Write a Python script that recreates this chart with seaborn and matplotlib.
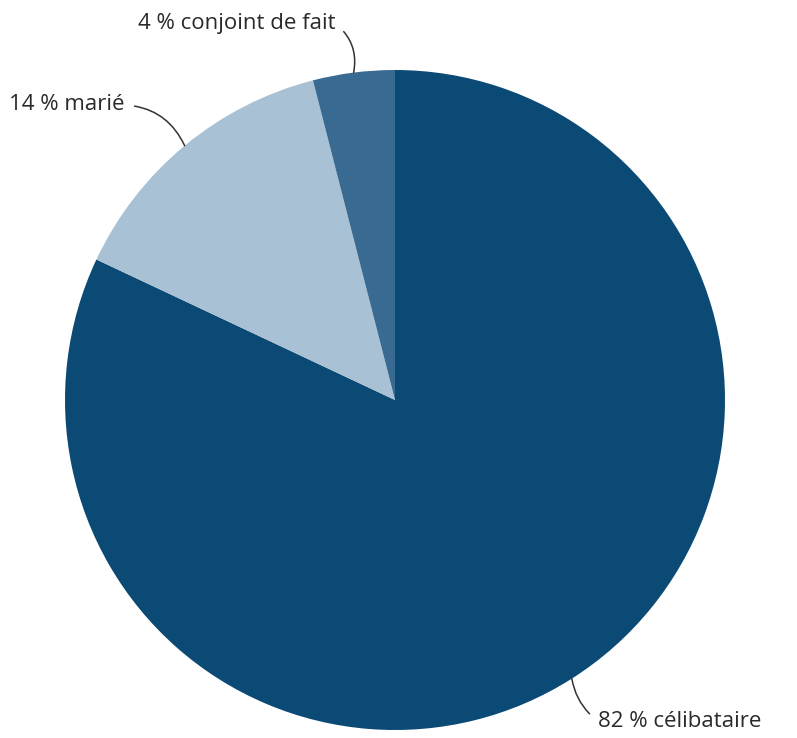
import numpy as np
import matplotlib
matplotlib.use("Agg")
import matplotlib.pyplot as plt
import seaborn as sns

# data
categories = ["célibataire", "marié", "conjoint de fait"]
values = [82, 14, 4]
colors = ["#0b4a75", "#a9c1d4", "#386a92"]

sns.set_theme(style="white")
plt.rcParams['font.family'] = ['Open Sans', 'DejaVu Sans']

fig = plt.figure(figsize=(7.97, 7.38), dpi=100)
ax = fig.add_axes([65 / 797, 8 / 738, 660 / 797, 660 / 738])

wedges, _ = ax.pie(values, colors=colors, startangle=90, counterclock=False,
                   radius=1, wedgeprops=dict(linewidth=0))
ax.set_xlim(-1, 1)
ax.set_ylim(-1, 1)
ax.set_aspect('equal')
ax.axis('off')

# label positions (data units, radius = 1)
label_pos = [(0.615, -0.973, 'left', (0, 0.5), -0.2),
             (-0.82, 0.894, 'right', (1, 0.5), -0.3),
             (-0.18, 1.14, 'right', (1, 0.5), -0.3)]

for w, cat, val, (tx, ty, ha, rp, rad) in zip(wedges, categories, values, label_pos):
    ang = np.deg2rad((w.theta1 + w.theta2) / 2)
    xy = (np.cos(ang), np.sin(ang))
    ax.annotate(f"{val} % {cat}", xy=xy, xytext=(tx, ty), ha=ha, va='center',
                fontsize=16, color="#2a2a2a", annotation_clip=False,
                arrowprops=dict(arrowstyle='-', color='#333333', lw=1.1,
                                shrinkA=5, shrinkB=0, relpos=rp,
                                connectionstyle=f'arc3,rad={rad}'))

plt.savefig("out.png", dpi=100)
